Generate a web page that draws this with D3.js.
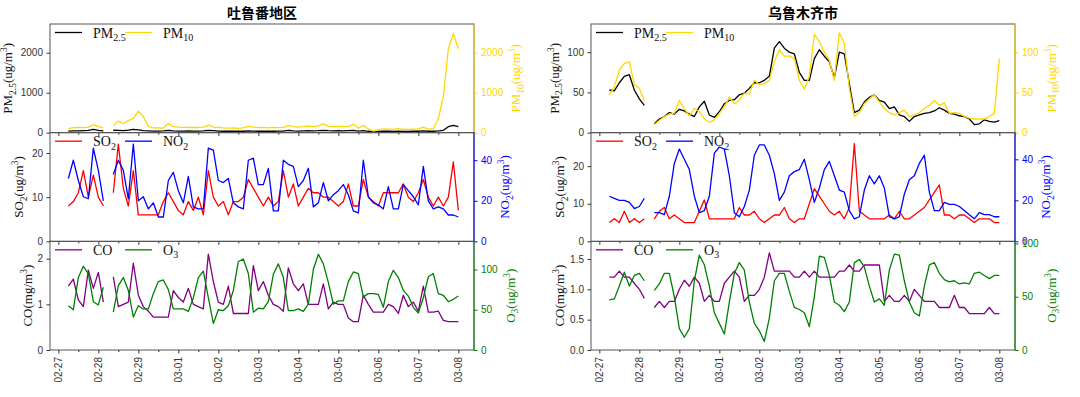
<!DOCTYPE html>
<meta charset="utf-8">
<style>
    body { margin: 0; background: #fff; }
    svg { display: block; }
    .lab { font-family: "Liberation Serif", "Times New Roman", serif; font-size: 14px; }
    .ylab { font-family: "Liberation Serif", "Times New Roman", serif; font-size: 13px; }
    .title { font-family: "Noto Sans CJK SC", sans-serif; font-size: 14px; font-weight: bold; }
</style>
<svg width="1080" height="397"></svg>
<script src="https://cdn.jsdelivr.net/npm/d3@7"></script>
<script>

    // 3-hourly samples starting 2020-02-27 06:00, one row per day
    var startTime = new Date(2020, 1, 27, 6), stepHours = 3;

    // 吐鲁番地区
    var tlf_pm25 = [
        40, 45, 45, 50, 55, 80,
        60, 45, null, 60, 55, 50, 65, 85,
        70, 50, 45, 40, 40, 45, 55, 45,
        40, 40, 45, 40, 40, 45, 60, 50,
        40, 35, 35, 40, 35, 35, 45, 40,
        35, 40, 35, 35, 40, 40, 55, 45,
        40, 45, 50, 45, 50, 60, 50, 45,
        50, 45, 50, 55, 40, 50, 35, 25,
        30, 35, 35, 30, 35, 30, 30, 35,
        35, 45, 35, 35, 45, 60, 150, 180,
        150];
    var tlf_pm10 = [
        100, 125, 130, 125, 140, 200,
        150, 120, null, 170, 290, 230, 300, 360,
        540, 400, 160, 120, 120, 115, 230, 150,
        140, 135, 130, 135, 130, 140, 190, 140,
        130, 120, 115, 120, 110, 120, 160, 140,
        125, 130, 120, 130, 125, 125, 180, 150,
        140, 150, 165, 150, 170, 220, 160, 150,
        160, 150, 160, 210, 110, 180, 90, 40,
        70, 95, 90, 80, 100, 85, 80, 90,
        95, 140, 90, 100, 350, 900, 2100, 2480,
        2100];
    var tlf_so2 = [
        8, 9, 11, 16, 10, 15,
        10, 8, null, 11, 22, 12, 8, 16,
        6, 6, 6, 6, 6, 9, 11, 9,
        7, 6, 9, 7, 10, 6, 16, 10,
        8, 9, 6, 9, 9, 10, 14, 12,
        10, 8, 10, 8, 9, 16, 10, 13,
        8, 10, 12, 11, 11, 10, 10, 9,
        8, 9, 13, 8, 8, 14, 10, 9,
        8, 11, 11, 11, 11, 13, 10, 9,
        11, 14, 10, 8, 10, 8, 10, 18,
        7];
    var tlf_no2 = [
        31, 40, 30, 22, 21, 46,
        35, 20, null, 33, 40, 35, 21, 48,
        20, 22, 16, 19, 12, 12, 30, 34,
        25, 19, 32, 17, 16, 16, 46, 45,
        30, 29, 31, 19, 17, 16, 40, 41,
        28, 28, 36, 15, 15, 40, 38, 37,
        27, 30, 36, 17, 19, 29, 20, 23,
        25, 28, 23, 15, 14, 40, 22, 19,
        18, 16, 27, 16, 16, 28, 25, 22,
        18, 37, 20, 16, 17, 16, 13, 13,
        12];
    var tlf_co = [
        1.4, 1.55, 1.1, 0.95, 1.75, 1.35,
        1.7, 1.05, null, 1.6, 0.95, 1.0, 1.05, 1.9,
        1.2, 0.95, 0.85, 0.72, 0.72, 0.72, 0.72, 1.3,
        1.15, 1.05, 1.35, 1.0, 0.95, 0.9, 2.1, 1.5,
        1.05, 1.0, 1.4, 0.8, 0.8, 0.8, 0.8, 1.85,
        1.3, 1.5, 1.2, 1.0, 0.95, 0.85, 1.8, 1.45,
        1.3, 1.45, 1.0, 1.0, 1.0, 1.45, 0.9, 1.05,
        1.0, 1.0, 0.7, 0.62, 0.62, 1.2, 1.0, 0.83,
        0.83, 0.83, 1.0, 0.95, 0.8, 1.2, 0.95, 1.05,
        0.85, 1.4, 0.83, 0.83, 0.85, 0.65, 0.62, 0.62,
        0.62];
    var tlf_o3 = [
        55, 50, 90, 104, 95, 60,
        56, 78, null, 47, 80, 90, 74, 41,
        55, 51, 51, 70, 85, 87, 75, 51,
        51, 51, 48, 65, 90, 98, 65, 33,
        50, 49, 55, 74, 110, 113, 95, 47,
        52, 51, 60, 94, 107, 90, 49, 49,
        51, 48, 57, 100, 119, 107, 84, 57,
        61, 61, 85, 97, 95, 66, 70, 70,
        69, 53, 85, 99, 90, 74, 67, 53,
        46, 65, 91, 95, 70, 68, 60, 63,
        67];

    // 乌鲁木齐市
    var urc_pm25 = [
        53, 52, 62, 70, 72, 53,
        42, 34, null, 11, 17, 20, 25, 23,
        29, 27, 23, 20, 32, 39, 22, 19,
        26, 36, 40, 41, 47, 49, 55, 62,
        62, 65, 70, 105, 113, 105, 100, 98,
        75, 65, 65, 92, 103, 95, 88, 68,
        100, 98, 61, 25, 28, 38, 44, 47,
        40, 38, 30, 32, 22, 20, 14, 20,
        22, 24, 25, 27, 31, 28, 24, 23,
        21, 20, 17, 10, 11, 16, 14, 13,
        15];
    var urc_pm10 = [
        47, 57, 78, 86, 88, 60,
        55, 40, null, 10, 15, 20, 23, 24,
        40, 30, 21, 30, 26, 17, 13, 16,
        24, 32, 44, 36, 40, 49, 48, 65,
        60, 61, 65, 88, 103, 95, 95, 92,
        65, 54, 70, 122, 113, 100, 90, 65,
        124, 111, 55, 20, 25, 36, 42, 47,
        38, 30, 25, 22, 25, 28, 20, 22,
        25, 30, 34, 40, 34, 37, 24, 25,
        24, 20, 18, 17, 17, 17, 20, 24,
        92];
    var urc_so2 = [
        5, 6, 5, 8, 5, 6,
        5, 6, null, 6, 8, 9, 6, 7,
        6, 5, 5, 5, 8, 11, 6, 6,
        6, 6, 6, 6, 9, 7, 7, 8,
        6, 5, 6, 7, 7, 9, 6, 5,
        6, 6, 10, 14, 12, 10, 8, 7,
        8, 6, 9, 26, 8, 7, 6, 6,
        6, 6, 7, 6, 8, 6, 6, 7,
        8, 9, 11, 13, 15, 7, 7, 6,
        7, 7, 6, 5, 6, 6, 6, 5,
        5];
    var urc_no2 = [
        22, 21, 20, 20, 19, 16,
        17, 21, null, 14, 14, 13, 22, 38,
        45, 40, 35, 22, 14, 15, 22, 43,
        46, 45, 32, 14, 12, 17, 25, 42,
        47, 47, 42, 33, 20, 24, 32, 34,
        35, 40, 30, 19, 26, 35, 39, 32,
        25, 24, 15, 11, 12, 25, 32, 28,
        32, 26, 12, 11, 12, 23, 30, 32,
        38, 42, 24, 15, 15, 19, 18, 18,
        17, 15, 13, 11, 14, 13, 13, 12,
        12];
    var urc_co = [
        1.2, 1.2, 1.3, 1.2, 1.2, 1.1,
        1.0, 0.85, null, 0.7, 0.8, 0.7, 0.8, 0.8,
        1.0, 1.15, 1.05, 1.2, 1.1, 0.8, 0.9, 0.8,
        0.8, 1.1, 1.2, 1.3, 1.2, 0.8, 0.9, 0.9,
        1.0, 1.2, 1.6, 1.3, 1.3, 1.3, 1.3, 1.2,
        1.2, 1.3, 1.2, 1.3, 1.2, 1.2, 1.2, 1.2,
        1.3, 1.3, 1.4, 1.3, 1.3, 1.4, 1.4, 1.4,
        1.4, 0.8, 0.9, 0.8, 0.8, 0.9, 0.8, 1.0,
        0.9, 0.8, 0.8, 0.8, 0.7, 0.7, 0.7, 0.9,
        0.7, 0.7, 0.6, 0.6, 0.6, 0.6, 0.7, 0.6,
        0.6];
    var urc_o3 = [
        47, 48, 60, 73, 60, 70,
        72, 65, null, 56, 62, 72, 72, 50,
        20, 12, 20, 65, 89, 80, 60, 35,
        25, 15, 45, 72, 82, 75, 45, 25,
        18, 8, 30, 65, 72, 72, 55, 40,
        38, 35, 22, 50, 88, 87, 70, 45,
        42, 36, 45, 82, 85, 78, 60, 45,
        48, 42, 75, 90, 89, 65, 45, 35,
        32, 60, 80, 82, 72, 66, 64, 65,
        62, 63, 62, 72, 73, 70, 67, 70,
        70];

    var times = tlf_pm25.map(function (d, i) {
        return d3.timeHour.offset(startTime, i * stepHours);
    });

    // label pieces: [text, "sub" | "sup" | ""]
    function pm25(u) { return [["PM", ""], ["2.5", "sub"], ["(" + u + "/m", ""], ["3", "sup"], [")", ""]]; }
    function chem(n, s, u) { return [[n, ""], [s, "sub"], ["(" + u + "/m", ""], ["3", "sup"], [")", ""]]; }

    var cities = [
        {
            title: "吐鲁番地区", x0: 50, x1: 474, rows: [
                {l: {data: tlf_pm25, color: "black", leg: [["PM", ""], ["2.5", "sub"]], label: pm25("ug"), dom: [0, 2720], ticks: [0, 1000, 2000]},
                 r: {data: tlf_pm10, color: "gold", leg: [["PM", ""], ["10", "sub"]], label: chem("PM", "10", "ug"), dom: [0, 2720], ticks: [0, 1000, 2000]}},
                {l: {data: tlf_so2, color: "red", leg: [["SO", ""], ["2", "sub"]], label: chem("SO", "2", "ug"), dom: [0, 24.6], ticks: [0, 10, 20]},
                 r: {data: tlf_no2, color: "blue", leg: [["NO", ""], ["2", "sub"]], label: chem("NO", "2", "ug"), dom: [0, 53.6], ticks: [0, 20, 40]}},
                {l: {data: tlf_co, color: "purple", leg: [["CO", ""]], label: [["CO(mg/m", ""], ["3", "sup"], [")", ""]], dom: [0, 2.38], ticks: [0, 1, 2]},
                 r: {data: tlf_o3, color: "green", leg: [["O", ""], ["3", "sub"]], label: chem("O", "3", "ug"), dom: [0, 135], ticks: [0, 50, 100]}}
            ]
        },
        {
            title: "乌鲁木齐市", x0: 591, x1: 1015, rows: [
                {l: {data: urc_pm25, color: "black", leg: [["PM", ""], ["2.5", "sub"]], label: pm25("ug"), dom: [0, 135], ticks: [0, 50, 100]},
                 r: {data: urc_pm10, color: "gold", leg: [["PM", ""], ["10", "sub"]], label: chem("PM", "10", "ug"), dom: [0, 135], ticks: [0, 50, 100]}},
                {l: {data: urc_so2, color: "red", leg: [["SO", ""], ["2", "sub"]], label: chem("SO", "2", "ug"), dom: [0, 28.9], ticks: [0, 10, 20]},
                 r: {data: urc_no2, color: "blue", leg: [["NO", ""], ["2", "sub"]], label: chem("NO", "2", "ug"), dom: [0, 53], ticks: [0, 20, 40]}},
                {l: {data: urc_co, color: "purple", leg: [["CO", ""]], label: [["CO(mg/m", ""], ["3", "sup"], [")", ""]], dom: [0, 1.79], ticks: [0, 0.5, 1, 1.5], fmt: d3.format(".1f")},
                 r: {data: urc_o3, color: "green", leg: [["O", ""], ["3", "sub"]], label: chem("O", "3", "ug"), dom: [0, 102], ticks: [0, 50, 100]}}
            ]
        }
    ];

    var svg = d3.select("svg");
    var rowTop = 24, rowH = 108.67;
    var xDomain = [new Date(2020, 1, 26, 19, 0), new Date(2020, 2, 8, 9, 24)];
    var frameColor = "#555";
    var tickFont = "Liberation Sans, Arial, sans-serif";

    function richText(sel, parts, small) {
        var shift = 0;
        parts.forEach(function (p) {
            var t = sel.append("tspan").text(p[0]);
            var target = p[1] === "sub" ? 3.5 : (p[1] === "sup" ? -5 : 0);
            if (target !== shift) t.attr("dy", target - shift);
            if (p[1]) t.attr("font-size", small);
            shift = target;
        });
    }

    function yLabel(parts, color, side, edge, cy) {
        var g = svg.append("g");
        var t = g.append("text").attr("class", "ylab").attr("fill", color)
            .attr("text-anchor", "middle").attr("transform", "rotate(-90)");
        richText(t, parts, 9.5);
        var b = t.node().getBBox();
        // after rotate(-90), local y maps to screen x
        var tx = side === "left" ? edge - (b.y + b.height) : edge - b.y;
        g.attr("transform", "translate(" + tx + "," + cy + ")");
    }

    cities.forEach(function (city, ci) {
        var x = d3.scaleTime().domain(xDomain).range([city.x0, city.x1]);

        svg.append("text").attr("class", "title")
            .attr("x", (city.x0 + city.x1) / 2).attr("y", 18)
            .attr("text-anchor", "middle").text(city.title);

        city.rows.forEach(function (row, r) {
            var top = rowTop + r * rowH, bot = top + rowH;
            var yL = d3.scaleLinear().domain(row.l.dom).range([bot, top]);
            var yR = d3.scaleLinear().domain(row.r.dom).range([bot, top]);
            var clipId = "clip" + ci + r;

            svg.append("clipPath").attr("id", clipId).append("rect")
                .attr("x", city.x0).attr("y", top)
                .attr("width", city.x1 - city.x0).attr("height", rowH);

            [[row.l, yL], [row.r, yR]].forEach(function (p) {
                var s = p[0], y = p[1];
                var line = d3.line()
                    .defined(function (d) { return d != null; })
                    .x(function (d, i) { return x(times[i]); })
                    .y(function (d) { return y(d); });
                svg.append("path").datum(s.data)
                    .attr("clip-path", "url(#" + clipId + ")")
                    .attr("fill", "none")
                    .attr("stroke", s.color)
                    .attr("stroke-width", 1.3)
                    .attr("stroke-linejoin", "round")
                    .attr("d", line);
            });

            // frame
            svg.append("rect")
                .attr("x", city.x0).attr("y", top)
                .attr("width", city.x1 - city.x0).attr("height", rowH)
                .attr("fill", "none").attr("stroke", frameColor).attr("stroke-width", 1);
            svg.append("line")
                .attr("x1", city.x1).attr("x2", city.x1).attr("y1", top).attr("y2", bot)
                .attr("stroke", row.r.color).attr("stroke-width", 1);

            // left axis
            var gl = svg.append("g").attr("transform", "translate(" + city.x0 + ",0)")
                .call(d3.axisLeft(yL).tickValues(row.l.ticks).tickSize(3.5).tickPadding(3.5)
                    .tickFormat(row.l.fmt || d3.format("d")));
            gl.attr("font-family", tickFont).attr("font-size", 10);
            gl.select(".domain").remove();
            gl.selectAll(".tick line").attr("stroke", "#333");
            gl.selectAll(".tick text").attr("fill", "#333");
            var wl = d3.max(gl.selectAll(".tick text").nodes(), function (n) { return n.getBBox().width; });

            // right axis
            var gr = svg.append("g").attr("transform", "translate(" + city.x1 + ",0)")
                .call(d3.axisRight(yR).tickValues(row.r.ticks).tickSize(3.5).tickPadding(3.5)
                    .tickFormat(row.r.fmt || d3.format("d")));
            gr.attr("font-family", tickFont).attr("font-size", 10);
            gr.select(".domain").remove();
            gr.selectAll(".tick line").attr("stroke", row.r.color);
            gr.selectAll(".tick text").attr("fill", row.r.color);
            var wr = d3.max(gr.selectAll(".tick text").nodes(), function (n) { return n.getBBox().width; });

            yLabel(row.l.label, "#111", "left", city.x0 - 7 - wl - 2.5, top + rowH / 2);
            yLabel(row.r.label, row.r.color, "right", city.x1 + 7 + wr + 3.5, top + rowH / 2);

            // x axis: days and half days
            var days = d3.timeDay.range(new Date(2020, 1, 27), new Date(2020, 2, 9));
            var halves = d3.timeHour.every(12).range(xDomain[0], xDomain[1])
                .filter(function (d) { return d.getHours() === 12; });
            var gx = svg.append("g").attr("transform", "translate(0," + bot + ")")
                .call(d3.axisBottom(x).tickValues(days).tickSize(3.5).tickPadding(3.5)
                    .tickFormat(r === 2 ? d3.timeFormat("%m-%d") : ""));
            gx.attr("font-family", tickFont).attr("font-size", 10);
            gx.select(".domain").remove();
            gx.selectAll(".tick line").attr("stroke", "#333");
            gx.selectAll(".tick text").attr("fill", "#333")
                .attr("transform", "rotate(-90)")
                .attr("text-anchor", "end")
                .attr("x", -7).attr("y", 0).attr("dy", "0.35em");
            var gm = svg.append("g").attr("transform", "translate(0," + bot + ")")
                .call(d3.axisBottom(x).tickValues(halves).tickSize(2).tickFormat(""));
            gm.select(".domain").remove();
            gm.selectAll(".tick line").attr("stroke", "#333");

            // legend
            var ly = top + 8.5;
            [row.l, row.r].forEach(function (s, k) {
                var lx = city.x0 + 5 + k * 70;
                svg.append("line").attr("x1", lx).attr("x2", lx + 27)
                    .attr("y1", ly).attr("y2", ly)
                    .attr("stroke", s.color).attr("stroke-width", 1.3);
                var t = svg.append("text").attr("class", "lab").attr("fill", "#111")
                    .attr("x", lx + 38).attr("y", ly + 5);
                richText(t, s.leg, 10);
            });
        });
    });

</script>
